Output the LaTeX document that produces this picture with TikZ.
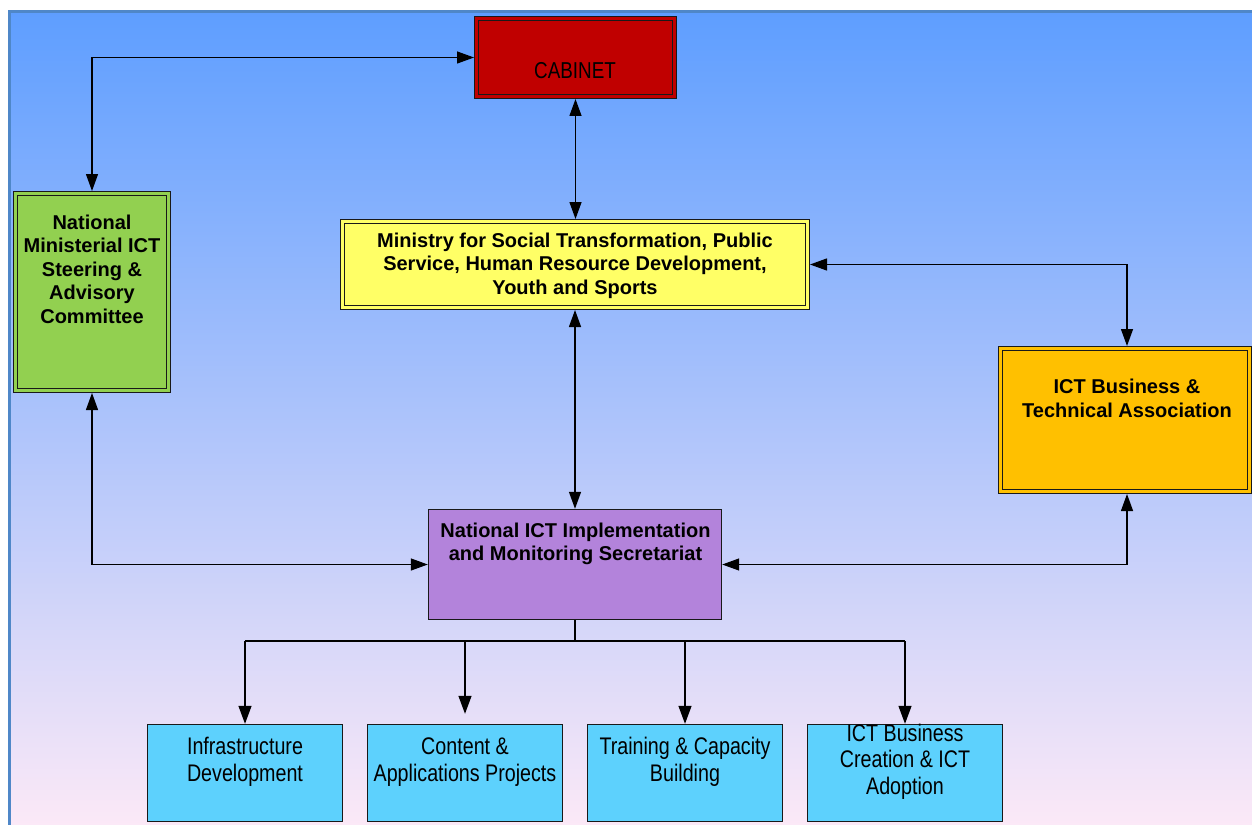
\documentclass[tikz,border=0pt]{standalone}
\usepackage{fontspec}
\setmainfont{Liberation Sans}
\newfontfamily\narrowfont[FakeStretch=0.82]{Liberation Sans}
\usetikzlibrary{arrows.meta}
\definecolor{bgtop}{HTML}{5E9EFF}
\definecolor{bgmid}{HTML}{90C2F8}
\definecolor{bgbot}{HTML}{FCE9F7}
\definecolor{frameblue}{HTML}{4F87C8}
\definecolor{cabinetred}{HTML}{C00000}
\definecolor{ministryyellow}{HTML}{FFFF66}
\definecolor{steergreen}{HTML}{92D050}
\definecolor{assocorange}{HTML}{FFC000}
\definecolor{secpurple}{HTML}{B383DB}
\definecolor{unitcyan}{HTML}{5DD1FD}
\tikzset{
  twinbox/.style={draw=black!90, line width=1.4pt, double=#1, double distance=2.2pt,
    fill=#1, inner sep=0pt, outer sep=2.5pt},
  plainbox/.style={draw=black!90, line width=1.4pt, fill=#1, inner sep=0pt},
  headtext/.style={font=\fontsize{20}{23.5}\selectfont\bfseries, align=center, inner sep=0pt},
  unittext/.style={font=\narrowfont\fontsize{24}{26.5}\selectfont, align=center, inner sep=0pt},
  link/.style={line width=1.3pt, {Triangle[length=17pt,width=12pt]}-{Triangle[length=17pt,width=12pt]}},
  feed/.style={line width=1.3pt, -{Triangle[length=18pt,width=13pt]}}
}
\begin{document}
\begin{tikzpicture}[x=1pt,y=1pt]
\useasboundingbox (0,0) rectangle (1252,-824);
\fill[white] (0,0) rectangle (1252,-824);
% backdrop
\shadedraw[top color=bgtop, middle color=bgmid, bottom color=bgbot,
  draw=frameblue, line width=3pt] (9.5,-11.5) rectangle (1256,-828);

% boxes
\node[twinbox=cabinetred, minimum width=198pt, minimum height=78pt] (cabinet) at (575.5,-57.5) {};
\node[twinbox=ministryyellow, minimum width=465pt, minimum height=86pt] (ministry) at (575,-264.5) {};
\node[twinbox=steergreen, minimum width=153pt, minimum height=197pt] (steering) at (92,-292) {};
\node[twinbox=assocorange, minimum width=249pt, minimum height=143pt] (assoc) at (1125,-420) {};
\node[plainbox=secpurple, minimum width=293pt, minimum height=110pt] (secretariat) at (575,-564.5) {};
\foreach \name/\x in {infra/245, content/465, training/685, adopt/905}
  \node[plainbox=unitcyan, minimum width=195pt, minimum height=97pt] (\name) at (\x,-773) {};

% texts
\node[font=\narrowfont\fontsize{23}{26}\selectfont, inner sep=0pt] (cabinettext) at (575,-71) {CABINET};
\node[headtext] (ministrytext) at (575,-265.5) {Ministry for Social Transformation, Public\\Service, Human Resource Development,\\Youth and Sports};
\node[headtext] (steeringtext) at (92,-269) {National\\Ministerial ICT\\Steering \&\\Advisory\\Committee};
\node[headtext] (assoctext) at (1127,-398.5) {ICT Business \&\\Technical Association};
\node[headtext] (secretariattext) at (575.5,-544) {National ICT Implementation\\and Monitoring Secretariat};
\node[unittext] (infratext) at (245,-762) {Infrastructure\\Development};
\node[unittext] (contenttext) at (465,-762) {Content \&\\Applications Projects};
\node[unittext] (trainingtext) at (685,-762) {Training \& Capacity\\Building};
\node[unittext] (adopttext) at (905,-761.5) {ICT Business\\Creation \& ICT\\Adoption};

% links
\draw[link] (steering.north) |- (cabinet.west);
\draw[link] (cabinet.south) -- (cabinet.south |- ministry.north);
\draw[link] (ministry.south) -- (secretariat.north);
\draw[link] (ministry.east) -| ([xshift=2pt]assoc.north);
\draw[link] (steering.south) |- (secretariat.west);
\draw[link] ([xshift=2pt]assoc.south) |- (secretariat.east);

% feed to the units
\coordinate (bus) at (575,-641);
\draw[line width=1.3pt] (secretariat.south) -- (bus);
\draw[line width=1.3pt] (infra.north |- bus) -- (adopt.north |- bus);
\foreach \name in {infra, training, adopt}
  \draw[feed] (\name.north |- bus) -- (\name.north);
\draw[feed, shorten >=10pt] (content.north |- bus) -- (content.north);
\end{tikzpicture}
\end{document}
